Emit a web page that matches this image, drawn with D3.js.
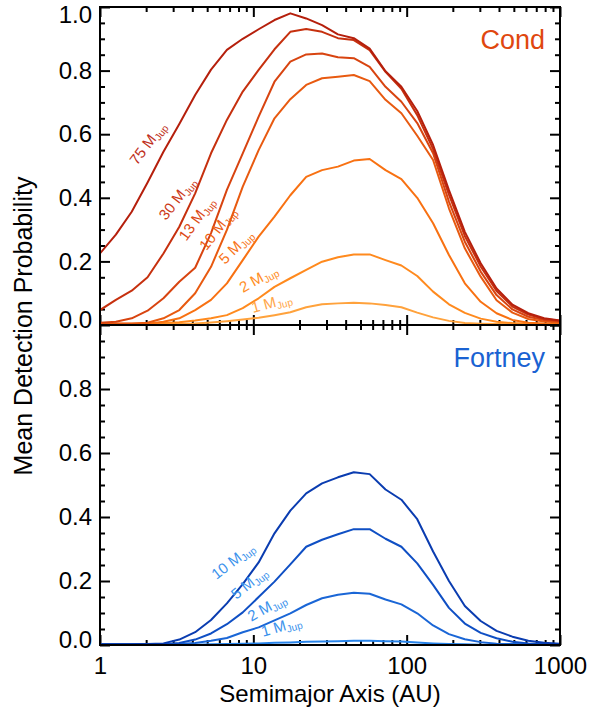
<!DOCTYPE html>
<html>
<head>
<meta charset="utf-8">
<script src="https://cdn.jsdelivr.net/npm/d3@7"></script>
<style>
  html, body { margin: 0; padding: 0; background: #fff; }
  svg { display: block; font-family: "Liberation Sans", Arial, Helvetica, sans-serif; }
</style>
</head>
<body>
<svg id="chart" width="592" height="711"></svg>
<script>
// ---------------- DATA ----------------
const semimajorAU = [1, 1.269, 1.610, 2.043, 2.593, 3.290, 4.175, 5.298, 6.723, 8.532,
  10.83, 13.74, 17.43, 22.12, 28.07, 35.62, 45.20, 57.36, 72.79, 92.37,
  117.2, 148.7, 188.7, 239.5, 303.9, 385.7, 489.4, 621.0, 788.1, 1000];

const condMasses = ["75", "30", "13", "10", "5", "2", "1"];
const cond75 = [0.225,0.284,0.356,0.448,0.545,0.632,0.723,0.803,0.865,0.900,0.930,0.959,0.980,0.964,0.943,0.914,0.902,0.869,0.798,0.749,0.673,0.566,0.424,0.293,0.194,0.115,0.064,0.037,0.021,0.014];
const cond30 = [0.047,0.079,0.108,0.150,0.225,0.309,0.414,0.540,0.645,0.734,0.802,0.867,0.922,0.931,0.922,0.902,0.896,0.864,0.796,0.743,0.660,0.553,0.410,0.280,0.184,0.107,0.058,0.033,0.019,0.013];
const cond13 = [0.007,0.010,0.021,0.045,0.084,0.136,0.180,0.289,0.425,0.540,0.655,0.765,0.828,0.851,0.854,0.842,0.839,0.812,0.749,0.702,0.635,0.540,0.388,0.262,0.168,0.094,0.049,0.026,0.016,0.011];
const cond10 = [0.005,0.005,0.005,0.007,0.021,0.047,0.100,0.183,0.299,0.435,0.550,0.650,0.710,0.755,0.776,0.781,0.786,0.767,0.708,0.666,0.595,0.519,0.367,0.241,0.152,0.078,0.039,0.019,0.011,0.008];
const cond5  = [0.004,0.004,0.004,0.004,0.010,0.021,0.047,0.079,0.131,0.204,0.278,0.341,0.408,0.466,0.487,0.498,0.517,0.522,0.487,0.459,0.400,0.320,0.220,0.131,0.073,0.037,0.016,0.007,0.005,0.004];
const cond2  = [0.003,0.003,0.003,0.004,0.006,0.009,0.014,0.021,0.031,0.053,0.084,0.120,0.147,0.173,0.199,0.213,0.222,0.222,0.204,0.187,0.154,0.105,0.065,0.038,0.020,0.010,0.006,0.004,0.003,0.003];
const cond1  = [0.002,0.002,0.002,0.003,0.003,0.004,0.005,0.008,0.012,0.017,0.023,0.031,0.040,0.056,0.065,0.068,0.070,0.068,0.063,0.056,0.039,0.024,0.013,0.006,0.004,0.003,0.002,0.002,0.002,0.002];

const fortMasses = ["10", "5", "2", "1"];
const fort10 = [0.002,0.002,0.002,0.003,0.005,0.017,0.040,0.078,0.130,0.190,0.258,0.349,0.420,0.474,0.505,0.524,0.540,0.534,0.486,0.454,0.393,0.292,0.200,0.122,0.075,0.044,0.026,0.013,0.007,0.004];
const fort5  = [0.002,0.002,0.002,0.002,0.002,0.006,0.017,0.036,0.065,0.102,0.150,0.198,0.252,0.307,0.329,0.346,0.362,0.362,0.332,0.307,0.255,0.188,0.116,0.067,0.038,0.021,0.010,0.005,0.003,0.002];
const fort2  = [0.002,0.002,0.002,0.002,0.002,0.003,0.006,0.013,0.022,0.040,0.055,0.077,0.099,0.125,0.146,0.157,0.163,0.160,0.142,0.127,0.099,0.061,0.034,0.018,0.009,0.004,0.003,0.002,0.002,0.002];
const fort1  = [0.001,0.001,0.001,0.001,0.001,0.001,0.001,0.002,0.003,0.004,0.005,0.007,0.008,0.010,0.011,0.012,0.013,0.013,0.012,0.011,0.008,0.005,0.003,0.002,0.001,0.001,0.001,0.001,0.001,0.001];

const xTickLabels = ["1", "10", "100", "1000"];
const xTickValues = [1, 10, 100, 1000];
const yTickValues = [0, 0.2, 0.4, 0.6, 0.8, 1.0];

// label anchors in data units [AU, probability] and rotation (deg)
const condLabelAU   = [1.743, 2.695, 3.65, 4.95, 6.535, 8.55, 9.95];
const condLabelP    = [0.500, 0.327, 0.262, 0.232, 0.189, 0.101, 0.038];
const condLabelRot  = [-53, -52, -54, -52, -45, -29, -15];
const fortLabelAU   = [5.75, 7.75, 9.7, 11.55];
const fortLabelP    = [0.203, 0.141, 0.073, 0.026];
const fortLabelRot  = [-38, -39, -29, -16];

// ---------------- STYLE ----------------
const condColors = ["#b51f0c", "#c6300e", "#d84410", "#e85a10", "#f87112", "#ff8a1e", "#ffa23c"];
const condLabelColors = ["#c0301c", "#cc3a1a", "#dc4a16", "#ec5e14", "#f87418", "#ff8e26", "#ffa648"];
const fortColors = ["#0a3cb0", "#0f4fc4", "#1a66d6", "#2884ea"];
const fortLabelColor = "#3b92ec";

// ---------------- LAYOUT ----------------
const svg = d3.select("#chart");
const L = 100, R = 560, T = 7, M = 325, B = 645;
const x = d3.scaleLog().domain([1, 1000]).range([L, R]);
const yTop = d3.scaleLinear().domain([0, 1]).range([M, T]);
const yBot = d3.scaleLinear().domain([0, 1]).range([B, M]);

const minorY = d3.range(0, 1.0001, 0.05).map(v => +v.toFixed(2)).filter(v => Math.abs(v*5 - Math.round(v*5)) > 1e-6);
const minorX = [];
[1, 10, 100].forEach(d => { for (let i = 2; i <= 9; i++) minorX.push(d * i); });

svg.append("defs").append("clipPath").attr("id", "clipT")
  .append("rect").attr("x", L).attr("y", T).attr("width", R - L).attr("height", M - T);
svg.select("defs").append("clipPath").attr("id", "clipB")
  .append("rect").attr("x", L).attr("y", M).attr("width", R - L).attr("height", B - M);

function cleanAxis(g) { g.select(".domain").remove(); g.selectAll("line").attr("stroke", "#000").attr("stroke-width", 2); }

function panelAxes(y, yTop0, yBottom0, labelVals, isBottom) {
  const gl = svg.append("g").attr("transform", `translate(${L},0)`)
    .call(d3.axisLeft(y).tickValues(labelVals).tickSize(-10).tickPadding(8).tickFormat(d3.format(".1f")));
  cleanAxis(gl);
  gl.selectAll("text").attr("font-size", 24).attr("fill", "#000")
    .attr("font-family", "'Liberation Sans', Arial, Helvetica, sans-serif")
    .attr("transform", d => d === 1 ? "translate(0,8)" : (d === 0 ? "translate(0,-5)" : null));
  cleanAxis(svg.append("g").attr("transform", `translate(${L},0)`)
    .call(d3.axisLeft(y).tickValues(minorY).tickSize(-5).tickFormat("")));
  cleanAxis(svg.append("g").attr("transform", `translate(${R},0)`)
    .call(d3.axisRight(y).tickValues(yTickValues).tickSize(-10).tickFormat("")));
  cleanAxis(svg.append("g").attr("transform", `translate(${R},0)`)
    .call(d3.axisRight(y).tickValues(minorY).tickSize(-5).tickFormat("")));
  cleanAxis(svg.append("g").attr("transform", `translate(0,${yTop0})`)
    .call(d3.axisBottom(x).tickValues(xTickValues).tickSize(10).tickFormat("")));
  cleanAxis(svg.append("g").attr("transform", `translate(0,${yTop0})`)
    .call(d3.axisBottom(x).tickValues(minorX).tickSize(5).tickFormat("")));
  const gb = svg.append("g").attr("transform", `translate(0,${yBottom0})`)
    .call(d3.axisBottom(x).tickValues(xTickValues).tickSize(-10).tickPadding(12)
      .tickFormat((d, i) => isBottom ? xTickLabels[i] : ""));
  cleanAxis(gb);
  gb.selectAll("text").attr("font-size", 24).attr("fill", "#000")
    .attr("font-family", "'Liberation Sans', Arial, Helvetica, sans-serif");
  cleanAxis(svg.append("g").attr("transform", `translate(0,${yBottom0})`)
    .call(d3.axisBottom(x).tickValues(minorX).tickSize(-5).tickFormat("")));
}

panelAxes(yTop, T, M, yTickValues, false);
panelAxes(yBot, M, B, [0, 0.2, 0.4, 0.6, 0.8], true);

// ---------------- CURVES ----------------
function drawCurves(series, colors, y, clip) {
  const line = d3.line().x((d, i) => x(semimajorAU[i])).y(d => y(d));
  const g = svg.append("g").attr("clip-path", `url(#${clip})`);
  series.slice().reverse().forEach((s, j) => {
    const idx = series.length - 1 - j;
    g.append("path").datum(s).attr("d", line)
      .attr("fill", "none").attr("stroke", colors[idx]).attr("stroke-width", 2)
      .attr("stroke-linejoin", "round");
  });
}
drawCurves([cond75, cond30, cond13, cond10, cond5, cond2, cond1], condColors, yTop, "clipT");
drawCurves([fort10, fort5, fort2, fort1], fortColors, yBot, "clipB");

// ---------------- FRAME ----------------
svg.append("rect").attr("x", L).attr("y", T).attr("width", R - L).attr("height", B - T)
  .attr("fill", "none").attr("stroke", "#000").attr("stroke-width", 2);
svg.append("line").attr("x1", L).attr("x2", R).attr("y1", M).attr("y2", M)
  .attr("stroke", "#000").attr("stroke-width", 2);

// ---------------- CURVE LABELS ----------------
function massLabel(mass, au, p, rot, y, color) {
  const t = svg.append("text")
    .attr("transform", `translate(${x(au)},${y(p)}) rotate(${rot})`)
    .attr("font-size", 15).attr("fill", color);
  t.append("tspan").text(mass + " M");
  t.append("tspan").text("Jup").attr("font-size", 10).attr("dy", 3);
}
condMasses.forEach((m, i) => massLabel(m, condLabelAU[i], condLabelP[i], condLabelRot[i], yTop, condLabelColors[i]));
fortMasses.forEach((m, i) => massLabel(m, fortLabelAU[i], fortLabelP[i], fortLabelRot[i], yBot, fortLabelColor));

// ---------------- PANEL NAMES ----------------
svg.append("text").attr("x", 545).attr("y", 49).attr("text-anchor", "end")
  .attr("font-size", 27).attr("fill", "#e0470f").text("Cond");
svg.append("text").attr("x", 545).attr("y", 367).attr("text-anchor", "end")
  .attr("font-size", 27).attr("fill", "#1a62d2").text("Fortney");

// ---------------- AXIS TITLES ----------------
svg.append("text").attr("x", 330).attr("y", 702).attr("text-anchor", "middle")
  .attr("font-size", 24).attr("fill", "#000").text("Semimajor Axis (AU)");
svg.append("text").attr("transform", "translate(32,326) rotate(-90)").attr("text-anchor", "middle")
  .attr("font-size", 25).attr("fill", "#000").text("Mean Detection Probability");
</script>
</body>
</html>
